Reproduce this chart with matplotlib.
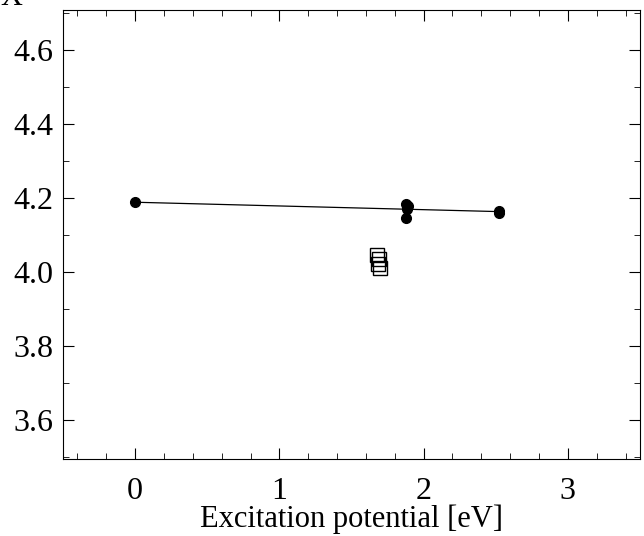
import numpy as np
import matplotlib
matplotlib.use("Agg")
from matplotlib import pyplot as plt
from matplotlib.ticker import MultipleLocator

# filled circles and open squares
ep_circ = [0.0, 1.88, 1.89, 1.885, 1.875, 2.52, 2.52]
ab_circ = [4.189, 4.185, 4.178, 4.172, 4.146, 4.166, 4.161]
ep_sq = [1.68, 1.69, 1.685, 1.70]
ab_sq = [4.046, 4.036, 4.021, 4.012]

plt.rcParams['font.family'] = ['Liberation Serif', 'DejaVu Serif']

fig = plt.figure(figsize=(6.44, 5.36), dpi=100)
ax = fig.add_axes([63 / 644, 1 - 459 / 536, 577 / 644, 449.5 / 536])

coef = np.polyfit(ep_circ, ab_circ, 1)
xx = np.array([min(ep_circ), max(ep_circ)])
ax.plot(xx, np.polyval(coef, xx), color='black', lw=0.9)
ax.plot(ep_circ, ab_circ, 'o', color='black', ms=7)
ax.plot(ep_sq, ab_sq, 's', mfc='none', mec='black', ms=10, mew=1.0)

ax.set_xlim(-0.5, 3.5)
ax.set_ylim(3.495, 4.71)
ax.xaxis.set_major_locator(MultipleLocator(1))
ax.xaxis.set_minor_locator(MultipleLocator(0.2))
ax.yaxis.set_major_locator(MultipleLocator(0.2))
ax.yaxis.set_minor_locator(MultipleLocator(0.1))
ax.yaxis.set_major_formatter(plt.FuncFormatter(lambda v, p: f"{v:.1f}"))
ax.tick_params(which='both', direction='in', top=True, right=True, labelsize=23)
ax.tick_params(which='major', length=8)
ax.tick_params(which='minor', length=4)
ax.tick_params(axis='x', pad=13)
ax.tick_params(axis='y', pad=7)
ax.set_xlabel('Excitation potential [eV]', fontsize=22, labelpad=-1)

fig.text(0.0, 1.005, 'X', fontsize=22, ha='left', va='center')

fig.savefig('out.png', dpi=100)
